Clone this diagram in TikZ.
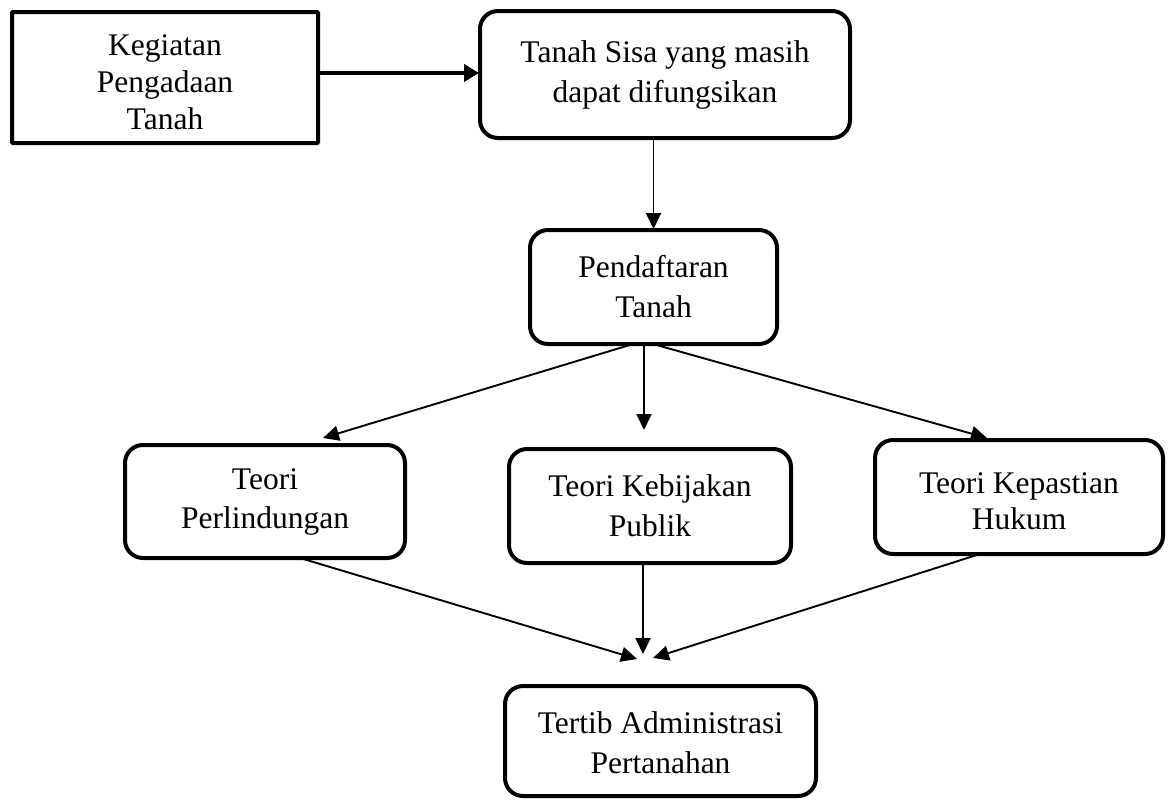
\documentclass[tikz,border=0pt]{standalone}
\usepackage{fontspec}
\setmainfont{Liberation Serif}
\usetikzlibrary{arrows.meta,calc}
\tikzset{
  box/.style={draw=black, line width=4pt, align=center, inner sep=0pt, outer sep=0pt,
    font=\fontsize{31.5}{40}\selectfont, rounded corners=18pt},
  sharpbox/.style={box, rounded corners=1pt},
  arr/.style={line width=1.9pt, -{Triangle[length=16pt,width=15pt]}},
  thickarr/.style={line width=4pt, -{Triangle[length=15pt,width=17pt]}},
}
\begin{document}
\begin{tikzpicture}[x=1pt,y=-1pt]
\useasboundingbox (0,0) rectangle (1171,801);
\node[sharpbox, minimum width=306pt, minimum height=131pt, font=\fontsize{31.5}{37}\selectfont, text height=103pt, text depth=0pt] (b1) at (165,77.5) {Kegiatan\\Pengadaan\\Tanah};
\node[box, minimum width=370pt, minimum height=127pt] (b2) at (665,74.5) {Tanah Sisa yang masih\\dapat difungsikan};
\node[box, minimum width=247pt, minimum height=114pt] (b3) at (653.5,287) {Pendaftaran\\Tanah};
\node[box, minimum width=280pt, minimum height=113pt, font=\fontsize{31.5}{39}\selectfont] (b4) at (265,501.5) {Teori\\Perlindungan};
\node[box, minimum width=282pt, minimum height=114pt] (b5) at (650,506) {Teori Kebijakan\\Publik};
\node[box, minimum width=288pt, minimum height=114pt, font=\fontsize{31.5}{36}\selectfont, text height=64pt, text depth=0pt] (b6) at (1019,497) {Teori Kepastian\\Hukum};
\node[box, minimum width=311pt, minimum height=110pt, text height=64pt, text depth=0pt] (b7) at (660.5,741) {Tertib Administrasi\\Pertanahan};

\draw[thickarr] ($(b1.east)+(0,-4.5)$) -- ($(b2.west)+(-1,-1.5)$);
\draw[arr] (b3.north |- b2.south) -- ($(b3.north)+(0,-1)$);
\draw[arr] ($(b3.south)+(-20.5,0)$) -- ($(b4.north)+(58,-7)$);
\draw[arr] ($(b3.south)+(-9.5,0)$) -- ($(b5.north)+(-6,-19)$);
\draw[arr] ($(b3.south)+(-0.5,0)$) -- ($(b6.north)+(-32,-2)$);
\draw[arr] ($(b4.south)+(35,0)$) -- ($(b7.north)+(-23.5,-27)$);
\draw[arr] ($(b5.south)+(-7,0)$) -- ($(b7.north)+(-17.5,-32)$);
\draw[arr] ($(b6.south)+(-39,0)$) -- ($(b7.north)+(-7.5,-28)$);
\end{tikzpicture}
\end{document}
